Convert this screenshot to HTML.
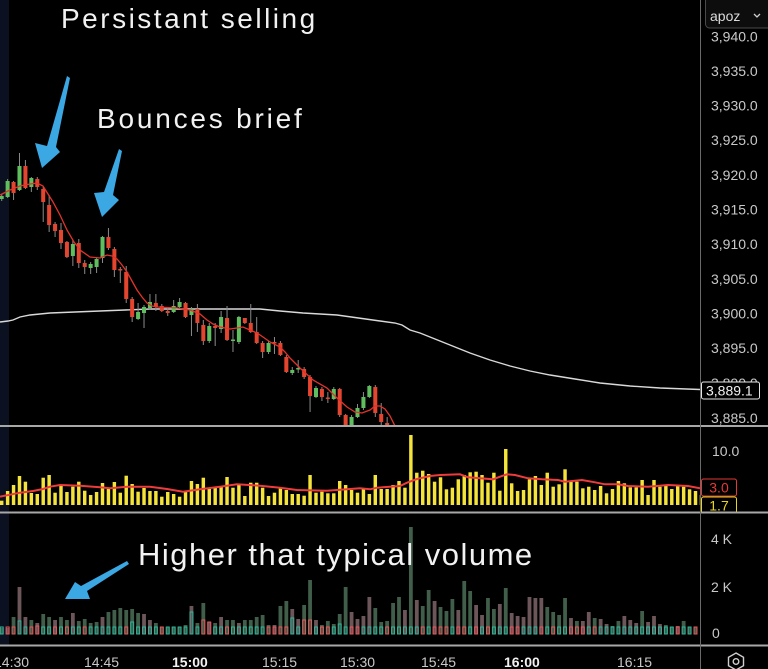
<!DOCTYPE html>
<html><head><meta charset="utf-8"><style>
html,body{margin:0;padding:0;background:#000;width:768px;height:669px;overflow:hidden}
svg{position:absolute;left:0;top:0;font-family:"Liberation Sans",sans-serif}
</style></head><body>
<svg width="768" height="669" viewBox="0 0 768 669">
<defs>
<clipPath id="cm"><rect x="0" y="0" width="700" height="425"/></clipPath>
<clipPath id="c2"><rect x="0" y="427" width="700" height="85"/></clipPath>
<clipPath id="c3"><rect x="0" y="513" width="700" height="132"/></clipPath>
</defs>
<rect width="768" height="669" fill="#000"/>
<rect x="0" y="0" width="9" height="645" fill="#0b1120"/>

<!-- MAIN PANEL -->
<g clip-path="url(#cm)">
<polyline fill="none" stroke="#d9d9d9" stroke-width="1.4" points="0,322 8,321 13,320 20,317 30,315 50,313 100,311 150,309 260,309 280,311 303,313 337,315 380,321 395,323 402,325 410,330 420,333 435,339 450,345 470,353 490,360 510,366 530,371 550,375 575,379 600,383 630,386 660,388 700,389.5"/>
<g transform="translate(1.7 0) scale(5.93 1)">
<g transform="translate(-0.085 0)" fill="#8a8a8a">
<rect x="0" y="194" width=".17" height="7"/><rect x="1" y="179" width=".17" height="19"/><rect x="2" y="181" width=".17" height="19"/><rect x="3" y="153" width=".17" height="38"/><rect x="4" y="160" width=".17" height="29"/><rect x="5" y="177" width=".17" height="15"/><rect x="6" y="177" width=".17" height="13"/><rect x="7" y="187" width=".17" height="35"/><rect x="8" y="195" width=".17" height="37"/><rect x="9" y="222" width=".17" height="15"/><rect x="10" y="223" width=".17" height="26"/><rect x="11" y="241" width=".17" height="17"/><rect x="12" y="240" width=".17" height="26"/><rect x="13" y="239" width=".17" height="29"/><rect x="14" y="260" width=".17" height="14"/><rect x="15" y="262" width=".17" height="12"/><rect x="16" y="257" width=".17" height="16"/><rect x="17" y="236" width=".17" height="27"/><rect x="18" y="228" width=".17" height="22"/><rect x="19" y="247" width=".17" height="30"/><rect x="20" y="267" width=".17" height="16"/><rect x="21" y="266" width=".17" height="37"/><rect x="22" y="297" width=".17" height="25"/><rect x="23" y="303" width=".17" height="17"/><rect x="24" y="305" width=".17" height="23"/><rect x="25" y="294" width=".17" height="16"/><rect x="26" y="294" width=".17" height="17"/><rect x="27" y="304" width=".17" height="8"/><rect x="28" y="307" width=".17" height="9"/><rect x="29" y="300" width=".17" height="13"/><rect x="30" y="298" width=".17" height="10"/><rect x="31" y="302" width=".17" height="16"/><rect x="32" y="307" width=".17" height="29"/><rect x="33" y="304" width=".17" height="28"/><rect x="34" y="320" width=".17" height="25"/><rect x="35" y="323" width=".17" height="20"/><rect x="36" y="323" width=".17" height="23"/><rect x="37" y="311" width=".17" height="22"/><rect x="38" y="306" width=".17" height="35"/><rect x="39" y="330" width=".17" height="22"/><rect x="40" y="316" width=".17" height="28"/><rect x="41" y="318" width=".17" height="6"/><rect x="42" y="304" width=".17" height="29"/><rect x="43" y="317" width=".17" height="27"/><rect x="44" y="341" width=".17" height="17"/><rect x="45" y="341" width=".17" height="13"/><rect x="46" y="337" width=".17" height="17"/><rect x="47" y="341" width=".17" height="15"/><rect x="48" y="355" width=".17" height="18"/><rect x="49" y="367" width=".17" height="8"/><rect x="50" y="360" width=".17" height="13"/><rect x="51" y="367" width=".17" height="12"/><rect x="52" y="375" width=".17" height="37"/><rect x="53" y="386" width=".17" height="12"/><rect x="54" y="387" width=".17" height="14"/><rect x="55" y="392" width=".17" height="11"/><rect x="56" y="387" width=".17" height="13"/><rect x="57" y="388" width=".17" height="29"/><rect x="58" y="414" width=".17" height="12"/><rect x="59" y="415" width=".17" height="11"/><rect x="60" y="404" width=".17" height="14"/><rect x="61" y="392" width=".17" height="18"/><rect x="62" y="385" width=".17" height="13"/><rect x="63" y="385" width=".17" height="32"/><rect x="64" y="403" width=".17" height="23"/><rect x="65" y="417" width=".17" height="9"/>
</g>
<g transform="translate(-0.34 0)" fill="#5fbf5f">
<rect x="0" y="196" width=".68" height="3"/><rect x="1" y="181" width=".68" height="16"/><rect x="3" y="166" width=".68" height="24"/><rect x="5" y="178" width=".68" height="9"/><rect x="12" y="244" width=".68" height="12"/><rect x="15" y="264" width=".68" height="4"/><rect x="16" y="259" width=".68" height="8"/><rect x="17" y="237" width=".68" height="21"/><rect x="23" y="312" width=".68" height="7"/><rect x="24" y="307" width=".68" height="6"/><rect x="25" y="302" width=".68" height="6"/><rect x="29" y="306" width=".68" height="6"/><rect x="30" y="302" width=".68" height="5"/><rect x="32" y="309" width=".68" height="6"/><rect x="35" y="326" width=".68" height="15"/><rect x="37" y="317" width=".68" height="12"/><rect x="39" y="339.5" width=".68" height="1.5"/><rect x="40" y="317" width=".68" height="25"/><rect x="45" y="343" width=".68" height="9"/><rect x="49" y="370" width=".68" height="3"/><rect x="50" y="368" width=".68" height="1.5"/><rect x="53" y="388" width=".68" height="9"/><rect x="56" y="389" width=".68" height="10"/><rect x="59" y="417" width=".68" height="9"/><rect x="60" y="408" width=".68" height="9"/><rect x="61" y="397" width=".68" height="11"/><rect x="62" y="386" width=".68" height="11"/>
</g>
<g transform="translate(-0.34 0)" fill="#e4452f">
<rect x="2" y="182" width=".68" height="11"/><rect x="4" y="166" width=".68" height="22"/><rect x="6" y="179" width=".68" height="8"/><rect x="7" y="189" width=".68" height="13"/><rect x="8" y="205" width=".68" height="20"/><rect x="9" y="224" width=".68" height="7"/><rect x="10" y="230" width=".68" height="13"/><rect x="11" y="242" width=".68" height="15"/><rect x="13" y="243" width=".68" height="20"/><rect x="14" y="263" width=".68" height="4"/><rect x="18" y="237" width=".68" height="11"/><rect x="19" y="249" width=".68" height="21"/><rect x="20" y="269" width=".68" height="1.5"/><rect x="21" y="272" width=".68" height="27"/><rect x="22" y="299" width=".68" height="18"/><rect x="26" y="303" width=".68" height="4"/><rect x="27" y="306" width=".68" height="5"/><rect x="28" y="311" width=".68" height="2"/><rect x="31" y="303" width=".68" height="14"/><rect x="33" y="309" width=".68" height="14"/><rect x="34" y="325" width=".68" height="16"/><rect x="36" y="326" width=".68" height="2"/><rect x="38" y="318" width=".68" height="22"/><rect x="41" y="318" width=".68" height="5"/><rect x="42" y="323" width=".68" height="9"/><rect x="43" y="332" width=".68" height="11"/><rect x="44" y="343" width=".68" height="9"/><rect x="46" y="342" width=".68" height="1.5"/><rect x="47" y="343" width=".68" height="12"/><rect x="48" y="357" width=".68" height="15"/><rect x="51" y="369" width=".68" height="8"/><rect x="52" y="377" width=".68" height="19"/><rect x="54" y="389" width=".68" height="8"/><rect x="55" y="397.5" width=".68" height="1.5"/><rect x="57" y="389" width=".68" height="26"/><rect x="58" y="415" width=".68" height="11"/><rect x="63" y="387" width=".68" height="26"/><rect x="64" y="414" width=".68" height="8"/><rect x="65" y="423" width=".68" height="3"/>
</g>
</g>
<polyline fill="none" stroke="#e2332c" stroke-width="1.3" points="0,195 10,190 20,186 30,184 37,183 43,186 48,194 53,202 60,215 67,230 74,242 80,250 90,257 100,258 107,255 112,256 117,259 122,265 127,272 132,281 137,290 142,297 147,303 152,306 157,307 177,308 190,310 200,314 207,320 213,324 220,327 230,329 237,328 243,327 250,330 257,333 263,337 270,342 280,347 285,352 290,358 300,368 313,380 327,388 337,398 347,407 355,412 362,413 370,410 375,406 380,406 385,409 390,416 395,426"/>
</g>

<!-- PANEL 2 yellow -->
<g clip-path="url(#c2)">
<g transform="translate(1.7 0) scale(5.93 1) translate(-0.29 0)" fill="#f3e33a">
<rect x="0" y="500.7" width=".58" height="4.3"/><rect x="1" y="491" width=".58" height="14"/><rect x="2" y="485" width=".58" height="20"/><rect x="3" y="476" width=".58" height="29"/><rect x="4" y="481.7" width=".58" height="23.3"/><rect x="5" y="493" width=".58" height="12"/><rect x="6" y="494" width=".58" height="11"/><rect x="7" y="477.7" width=".58" height="27.3"/><rect x="8" y="475" width=".58" height="30"/><rect x="9" y="492.7" width=".58" height="12.3"/><rect x="10" y="485" width=".58" height="20"/><rect x="11" y="492" width=".58" height="13"/><rect x="12" y="486.7" width=".58" height="18.3"/><rect x="13" y="481.7" width=".58" height="23.3"/><rect x="14" y="490.7" width=".58" height="14.3"/><rect x="15" y="495" width=".58" height="10"/><rect x="16" y="492" width=".58" height="13"/><rect x="17" y="483" width=".58" height="22"/><rect x="18" y="489" width=".58" height="16"/><rect x="19" y="482" width=".58" height="23"/><rect x="20" y="492.7" width=".58" height="12.3"/><rect x="21" y="475.7" width=".58" height="29.3"/><rect x="22" y="484" width=".58" height="21"/><rect x="23" y="491.7" width=".58" height="13.3"/><rect x="24" y="488" width=".58" height="17"/><rect x="25" y="491" width=".58" height="14"/><rect x="26" y="491" width=".58" height="14"/><rect x="27" y="496.7" width=".58" height="8.3"/><rect x="28" y="492" width=".58" height="13"/><rect x="29" y="494" width=".58" height="11"/><rect x="30" y="496.7" width=".58" height="8.3"/><rect x="31" y="492" width=".58" height="13"/><rect x="32" y="481" width=".58" height="24"/><rect x="33" y="484" width=".58" height="21"/><rect x="34" y="477.7" width=".58" height="27.3"/><rect x="35" y="489" width=".58" height="16"/><rect x="36" y="487" width=".58" height="18"/><rect x="37" y="486" width=".58" height="19"/><rect x="38" y="477" width=".58" height="28"/><rect x="39" y="487.7" width=".58" height="17.3"/><rect x="40" y="484" width=".58" height="21"/><rect x="41" y="496" width=".58" height="9"/><rect x="42" y="482.7" width=".58" height="22.3"/><rect x="43" y="482.7" width=".58" height="22.3"/><rect x="44" y="487.7" width=".58" height="17.3"/><rect x="45" y="496" width=".58" height="9"/><rect x="46" y="492.7" width=".58" height="12.3"/><rect x="47" y="488" width=".58" height="17"/><rect x="48" y="490" width=".58" height="15"/><rect x="49" y="494" width=".58" height="11"/><rect x="50" y="494" width=".58" height="11"/><rect x="51" y="495.7" width=".58" height="9.3"/><rect x="52" y="475" width=".58" height="30"/><rect x="53" y="492.7" width=".58" height="12.3"/><rect x="54" y="491.7" width=".58" height="13.3"/><rect x="55" y="493.3" width=".58" height="11.7"/><rect x="56" y="493.3" width=".58" height="11.7"/><rect x="57" y="481" width=".58" height="24"/><rect x="58" y="485" width=".58" height="20"/><rect x="59" y="490" width=".58" height="15"/><rect x="60" y="492.7" width=".58" height="12.3"/><rect x="61" y="489" width=".58" height="16"/><rect x="62" y="494" width=".58" height="11"/><rect x="63" y="475" width=".58" height="30"/><rect x="64" y="489" width=".58" height="16"/><rect x="65" y="489" width=".58" height="16"/><rect x="66" y="485" width=".58" height="20"/><rect x="67" y="481" width=".58" height="24"/><rect x="68" y="487.7" width=".58" height="17.3"/><rect x="69" y="435" width=".58" height="70"/><rect x="70" y="472.7" width=".58" height="32.3"/><rect x="71" y="470.7" width=".58" height="34.3"/><rect x="72" y="474" width=".58" height="31"/><rect x="73" y="481.7" width=".58" height="23.3"/><rect x="74" y="477.3" width=".58" height="27.7"/><rect x="75" y="489.3" width=".58" height="15.7"/><rect x="76" y="487.7" width=".58" height="17.3"/><rect x="77" y="479.3" width=".58" height="25.7"/><rect x="78" y="475" width=".58" height="30"/><rect x="79" y="472.3" width=".58" height="32.7"/><rect x="80" y="471.7" width=".58" height="33.3"/><rect x="81" y="475" width=".58" height="30"/><rect x="82" y="482.7" width=".58" height="22.3"/><rect x="83" y="472.7" width=".58" height="32.3"/><rect x="84" y="490.7" width=".58" height="14.3"/><rect x="85" y="449" width=".58" height="56"/><rect x="86" y="483.3" width=".58" height="21.7"/><rect x="87" y="491" width=".58" height="14"/><rect x="88" y="490" width=".58" height="15"/><rect x="89" y="479.3" width=".58" height="25.7"/><rect x="90" y="476" width=".58" height="29"/><rect x="91" y="485" width=".58" height="20"/><rect x="92" y="472.7" width=".58" height="32.3"/><rect x="93" y="486.7" width=".58" height="18.3"/><rect x="94" y="484.3" width=".58" height="20.7"/><rect x="95" y="469.3" width=".58" height="35.7"/><rect x="96" y="481.7" width=".58" height="23.3"/><rect x="97" y="481.7" width=".58" height="23.3"/><rect x="98" y="488.3" width=".58" height="16.7"/><rect x="99" y="486.7" width=".58" height="18.3"/><rect x="100" y="490" width=".58" height="15"/><rect x="101" y="486" width=".58" height="19"/><rect x="102" y="493.3" width=".58" height="11.7"/><rect x="103" y="489" width=".58" height="16"/><rect x="104" y="481" width=".58" height="24"/><rect x="105" y="483.3" width=".58" height="21.7"/><rect x="106" y="487.3" width=".58" height="17.7"/><rect x="107" y="487.3" width=".58" height="17.7"/><rect x="108" y="480" width=".58" height="25"/><rect x="109" y="495" width=".58" height="10"/><rect x="110" y="480" width=".58" height="25"/><rect x="111" y="486.7" width=".58" height="18.3"/><rect x="112" y="486" width=".58" height="19"/><rect x="113" y="489" width=".58" height="16"/><rect x="114" y="485" width=".58" height="20"/><rect x="115" y="486.7" width=".58" height="18.3"/><rect x="116" y="489.3" width=".58" height="15.7"/><rect x="117" y="491" width=".58" height="14"/><rect x="118" y="495" width=".58" height="10"/>
</g>
<polyline fill="none" stroke="#ee3b3b" stroke-width="2" points="0,496.7 20,492.7 33,491 43,489 50,486.7 60,485 80,485.7 100,487.3 110,488.3 127,486.7 150,486.7 167,489 183,491.7 200,489.3 220,486.7 237,484.3 260,485.7 280,487.7 297,490 327,490.7 360,488.3 370,489.3 377,487.7 400,486 407,482.7 417,479 430,476 440,475 460,474.3 468,477.3 493,479.3 500,476.7 507,474.3 515,475 528,478.3 542,479.3 558,480 565,481.7 582,480 595,482.3 605,484.3 618,484.3 628,486 648,486.7 668,485 688,486 700,488.3"/>
</g>

<!-- PANEL 3 volume -->
<g clip-path="url(#c3)">
<g transform="translate(1.7 0) scale(5.93 1) translate(-0.32 0)" fill="#405e49">
<rect x="0" y="628" width=".64" height="6"/><rect x="2" y="617" width=".64" height="17"/><rect x="5" y="620" width=".64" height="14"/><rect x="7" y="614" width=".64" height="20"/><rect x="8" y="617" width=".64" height="17"/><rect x="10" y="617" width=".64" height="17"/><rect x="11" y="620" width=".64" height="14"/><rect x="13" y="621" width=".64" height="13"/><rect x="14" y="619" width=".64" height="15"/><rect x="15" y="623" width=".64" height="11"/><rect x="16" y="622" width=".64" height="12"/><rect x="18" y="612" width=".64" height="22"/><rect x="19" y="610" width=".64" height="24"/><rect x="20" y="608" width=".64" height="26"/><rect x="21" y="610" width=".64" height="24"/><rect x="22" y="609" width=".64" height="25"/><rect x="23" y="613" width=".64" height="21"/><rect x="26" y="623" width=".64" height="11"/><rect x="27" y="627" width=".64" height="7"/><rect x="28" y="627" width=".64" height="7"/><rect x="29" y="627" width=".64" height="7"/><rect x="30" y="627" width=".64" height="7"/><rect x="31" y="625" width=".64" height="9"/><rect x="33" y="623" width=".64" height="11"/><rect x="34" y="603" width=".64" height="31"/><rect x="36" y="623" width=".64" height="11"/><rect x="38" y="620" width=".64" height="14"/><rect x="39" y="620" width=".64" height="14"/><rect x="41" y="620" width=".64" height="14"/><rect x="42" y="620" width=".64" height="14"/><rect x="43" y="617" width=".64" height="17"/><rect x="44" y="615" width=".64" height="19"/><rect x="45" y="625" width=".64" height="9"/><rect x="47" y="606" width=".64" height="28"/><rect x="48" y="601" width=".64" height="33"/><rect x="51" y="605" width=".64" height="29"/><rect x="52" y="580" width=".64" height="54"/><rect x="54" y="625" width=".64" height="9"/><rect x="55" y="621" width=".64" height="13"/><rect x="56" y="624" width=".64" height="10"/><rect x="57" y="614" width=".64" height="20"/><rect x="58" y="587" width=".64" height="47"/><rect x="63" y="608" width=".64" height="26"/><rect x="64" y="622" width=".64" height="12"/><rect x="65" y="621" width=".64" height="13"/><rect x="66" y="603" width=".64" height="31"/><rect x="67" y="597" width=".64" height="37"/><rect x="69" y="527" width=".64" height="107"/><rect x="71" y="606" width=".64" height="28"/><rect x="72" y="590" width=".64" height="44"/><rect x="74" y="607" width=".64" height="27"/><rect x="75" y="611" width=".64" height="23"/><rect x="76" y="599" width=".64" height="35"/><rect x="78" y="581" width=".64" height="53"/><rect x="79" y="591" width=".64" height="43"/><rect x="82" y="598" width=".64" height="36"/><rect x="83" y="609" width=".64" height="25"/><rect x="85" y="588" width=".64" height="46"/><rect x="92" y="607" width=".64" height="27"/><rect x="93" y="612" width=".64" height="22"/><rect x="94" y="615" width=".64" height="19"/><rect x="95" y="598" width=".64" height="36"/><rect x="97" y="621" width=".64" height="13"/><rect x="100" y="618" width=".64" height="16"/><rect x="103" y="626" width=".64" height="8"/><rect x="104" y="621" width=".64" height="13"/><rect x="108" y="611" width=".64" height="23"/><rect x="112" y="625" width=".64" height="9"/><rect x="113" y="627" width=".64" height="7"/><rect x="115" y="621" width=".64" height="13"/><rect x="116" y="627" width=".64" height="7"/><rect x="117" y="627" width=".64" height="7"/>
</g>
<g transform="translate(1.7 0) scale(5.93 1) translate(-0.32 0)" fill="#6d565a">
<rect x="1" y="628" width=".64" height="6"/><rect x="3" y="587" width=".64" height="47"/><rect x="4" y="617" width=".64" height="17"/><rect x="6" y="623" width=".64" height="11"/><rect x="9" y="620" width=".64" height="14"/><rect x="12" y="613" width=".64" height="21"/><rect x="17" y="617" width=".64" height="17"/><rect x="24" y="614" width=".64" height="20"/><rect x="25" y="620" width=".64" height="14"/><rect x="32" y="606" width=".64" height="28"/><rect x="35" y="622" width=".64" height="12"/><rect x="37" y="617" width=".64" height="17"/><rect x="40" y="623" width=".64" height="11"/><rect x="46" y="625" width=".64" height="9"/><rect x="49" y="609" width=".64" height="25"/><rect x="50" y="619" width=".64" height="15"/><rect x="53" y="620" width=".64" height="14"/><rect x="59" y="612" width=".64" height="22"/><rect x="60" y="619" width=".64" height="15"/><rect x="61" y="616" width=".64" height="18"/><rect x="62" y="597" width=".64" height="37"/><rect x="68" y="610" width=".64" height="24"/><rect x="70" y="600" width=".64" height="34"/><rect x="73" y="601" width=".64" height="33"/><rect x="77" y="610" width=".64" height="24"/><rect x="80" y="605" width=".64" height="29"/><rect x="81" y="615" width=".64" height="19"/><rect x="84" y="604" width=".64" height="30"/><rect x="86" y="613" width=".64" height="21"/><rect x="87" y="616" width=".64" height="18"/><rect x="88" y="617" width=".64" height="17"/><rect x="89" y="597" width=".64" height="37"/><rect x="90" y="598" width=".64" height="36"/><rect x="91" y="598" width=".64" height="36"/><rect x="96" y="618" width=".64" height="16"/><rect x="98" y="621" width=".64" height="13"/><rect x="99" y="612" width=".64" height="22"/><rect x="101" y="619" width=".64" height="15"/><rect x="102" y="624" width=".64" height="10"/><rect x="105" y="616" width=".64" height="18"/><rect x="106" y="620" width=".64" height="14"/><rect x="107" y="623" width=".64" height="11"/><rect x="109" y="622" width=".64" height="12"/><rect x="110" y="616" width=".64" height="18"/><rect x="111" y="624" width=".64" height="10"/><rect x="114" y="626" width=".64" height="8"/>
</g>
<g transform="translate(1.7 0) scale(5.93 1) translate(-0.25 0)" fill="none" stroke="#2fb59b" stroke-width="1">
<rect x="0" y="627" width=".5" height="7" vector-effect="non-scaling-stroke"/><rect x="3" y="621" width=".5" height="13" vector-effect="non-scaling-stroke"/><rect x="4" y="627" width=".5" height="7" vector-effect="non-scaling-stroke"/><rect x="7" y="627" width=".5" height="7" vector-effect="non-scaling-stroke"/><rect x="8" y="627" width=".5" height="7" vector-effect="non-scaling-stroke"/><rect x="10" y="627" width=".5" height="7" vector-effect="non-scaling-stroke"/><rect x="12" y="627" width=".5" height="7" vector-effect="non-scaling-stroke"/><rect x="13" y="627" width=".5" height="7" vector-effect="non-scaling-stroke"/><rect x="15" y="627" width=".5" height="7" vector-effect="non-scaling-stroke"/><rect x="16" y="627" width=".5" height="7" vector-effect="non-scaling-stroke"/><rect x="17" y="627" width=".5" height="7" vector-effect="non-scaling-stroke"/><rect x="18" y="627" width=".5" height="7" vector-effect="non-scaling-stroke"/><rect x="19" y="627" width=".5" height="7" vector-effect="non-scaling-stroke"/><rect x="20" y="627" width=".5" height="7" vector-effect="non-scaling-stroke"/><rect x="22" y="622" width=".5" height="12" vector-effect="non-scaling-stroke"/><rect x="23" y="627" width=".5" height="7" vector-effect="non-scaling-stroke"/><rect x="24" y="627" width=".5" height="7" vector-effect="non-scaling-stroke"/><rect x="25" y="627" width=".5" height="7" vector-effect="non-scaling-stroke"/><rect x="26" y="627" width=".5" height="7" vector-effect="non-scaling-stroke"/><rect x="28" y="627" width=".5" height="7" vector-effect="non-scaling-stroke"/><rect x="29" y="627" width=".5" height="7" vector-effect="non-scaling-stroke"/><rect x="30" y="627" width=".5" height="7" vector-effect="non-scaling-stroke"/><rect x="31" y="627" width=".5" height="7" vector-effect="non-scaling-stroke"/><rect x="32" y="612" width=".5" height="22" vector-effect="non-scaling-stroke"/><rect x="33" y="627" width=".5" height="7" vector-effect="non-scaling-stroke"/><rect x="36" y="627" width=".5" height="7" vector-effect="non-scaling-stroke"/><rect x="37" y="627" width=".5" height="7" vector-effect="non-scaling-stroke"/><rect x="39" y="627" width=".5" height="7" vector-effect="non-scaling-stroke"/><rect x="40" y="627" width=".5" height="7" vector-effect="non-scaling-stroke"/><rect x="41" y="627" width=".5" height="7" vector-effect="non-scaling-stroke"/><rect x="42" y="627" width=".5" height="7" vector-effect="non-scaling-stroke"/><rect x="43" y="627" width=".5" height="7" vector-effect="non-scaling-stroke"/><rect x="44" y="627" width=".5" height="7" vector-effect="non-scaling-stroke"/><rect x="49" y="618" width=".5" height="16" vector-effect="non-scaling-stroke"/><rect x="50" y="627" width=".5" height="7" vector-effect="non-scaling-stroke"/><rect x="53" y="627" width=".5" height="7" vector-effect="non-scaling-stroke"/><rect x="56" y="627" width=".5" height="7" vector-effect="non-scaling-stroke"/><rect x="57" y="624" width=".5" height="10" vector-effect="non-scaling-stroke"/><rect x="58" y="627" width=".5" height="7" vector-effect="non-scaling-stroke"/><rect x="61" y="627" width=".5" height="7" vector-effect="non-scaling-stroke"/><rect x="62" y="627" width=".5" height="7" vector-effect="non-scaling-stroke"/><rect x="63" y="627" width=".5" height="7" vector-effect="non-scaling-stroke"/><rect x="64" y="627" width=".5" height="7" vector-effect="non-scaling-stroke"/><rect x="66" y="627" width=".5" height="7" vector-effect="non-scaling-stroke"/><rect x="67" y="627" width=".5" height="7" vector-effect="non-scaling-stroke"/><rect x="68" y="627" width=".5" height="7" vector-effect="non-scaling-stroke"/><rect x="69" y="627" width=".5" height="7" vector-effect="non-scaling-stroke"/><rect x="70" y="627" width=".5" height="7" vector-effect="non-scaling-stroke"/><rect x="72" y="627" width=".5" height="7" vector-effect="non-scaling-stroke"/><rect x="76" y="627" width=".5" height="7" vector-effect="non-scaling-stroke"/><rect x="79" y="627" width=".5" height="7" vector-effect="non-scaling-stroke"/><rect x="81" y="627" width=".5" height="7" vector-effect="non-scaling-stroke"/><rect x="83" y="627" width=".5" height="7" vector-effect="non-scaling-stroke"/><rect x="84" y="627" width=".5" height="7" vector-effect="non-scaling-stroke"/><rect x="85" y="627" width=".5" height="7" vector-effect="non-scaling-stroke"/><rect x="88" y="627" width=".5" height="7" vector-effect="non-scaling-stroke"/><rect x="89" y="627" width=".5" height="7" vector-effect="non-scaling-stroke"/><rect x="90" y="627" width=".5" height="7" vector-effect="non-scaling-stroke"/><rect x="92" y="627" width=".5" height="7" vector-effect="non-scaling-stroke"/><rect x="94" y="627" width=".5" height="7" vector-effect="non-scaling-stroke"/><rect x="95" y="627" width=".5" height="7" vector-effect="non-scaling-stroke"/><rect x="99" y="627" width=".5" height="7" vector-effect="non-scaling-stroke"/><rect x="101" y="627" width=".5" height="7" vector-effect="non-scaling-stroke"/><rect x="102" y="627" width=".5" height="7" vector-effect="non-scaling-stroke"/><rect x="103" y="627" width=".5" height="7" vector-effect="non-scaling-stroke"/><rect x="104" y="627" width=".5" height="7" vector-effect="non-scaling-stroke"/><rect x="105" y="627" width=".5" height="7" vector-effect="non-scaling-stroke"/><rect x="106" y="627" width=".5" height="7" vector-effect="non-scaling-stroke"/><rect x="107" y="627" width=".5" height="7" vector-effect="non-scaling-stroke"/><rect x="108" y="627" width=".5" height="7" vector-effect="non-scaling-stroke"/><rect x="109" y="627" width=".5" height="7" vector-effect="non-scaling-stroke"/><rect x="110" y="627" width=".5" height="7" vector-effect="non-scaling-stroke"/><rect x="111" y="627" width=".5" height="7" vector-effect="non-scaling-stroke"/><rect x="112" y="627" width=".5" height="7" vector-effect="non-scaling-stroke"/><rect x="113" y="627" width=".5" height="7" vector-effect="non-scaling-stroke"/><rect x="115" y="627" width=".5" height="7" vector-effect="non-scaling-stroke"/><rect x="116" y="627" width=".5" height="7" vector-effect="non-scaling-stroke"/>
</g>
<g transform="translate(1.7 0) scale(5.93 1) translate(-0.25 0)" fill="none" stroke="#e8585c" stroke-width="1">
<rect x="1" y="627" width=".5" height="7" vector-effect="non-scaling-stroke"/><rect x="2" y="627" width=".5" height="7" vector-effect="non-scaling-stroke"/><rect x="5" y="627" width=".5" height="7" vector-effect="non-scaling-stroke"/><rect x="6" y="626" width=".5" height="8" vector-effect="non-scaling-stroke"/><rect x="9" y="627" width=".5" height="7" vector-effect="non-scaling-stroke"/><rect x="11" y="627" width=".5" height="7" vector-effect="non-scaling-stroke"/><rect x="14" y="627" width=".5" height="7" vector-effect="non-scaling-stroke"/><rect x="21" y="627" width=".5" height="7" vector-effect="non-scaling-stroke"/><rect x="27" y="627" width=".5" height="7" vector-effect="non-scaling-stroke"/><rect x="34" y="620" width=".5" height="14" vector-effect="non-scaling-stroke"/><rect x="35" y="622" width=".5" height="12" vector-effect="non-scaling-stroke"/><rect x="38" y="627" width=".5" height="7" vector-effect="non-scaling-stroke"/><rect x="45" y="627" width=".5" height="7" vector-effect="non-scaling-stroke"/><rect x="46" y="627" width=".5" height="7" vector-effect="non-scaling-stroke"/><rect x="47" y="627" width=".5" height="7" vector-effect="non-scaling-stroke"/><rect x="48" y="627" width=".5" height="7" vector-effect="non-scaling-stroke"/><rect x="51" y="620" width=".5" height="14" vector-effect="non-scaling-stroke"/><rect x="52" y="620" width=".5" height="14" vector-effect="non-scaling-stroke"/><rect x="54" y="627" width=".5" height="7" vector-effect="non-scaling-stroke"/><rect x="55" y="627" width=".5" height="7" vector-effect="non-scaling-stroke"/><rect x="59" y="627" width=".5" height="7" vector-effect="non-scaling-stroke"/><rect x="60" y="627" width=".5" height="7" vector-effect="non-scaling-stroke"/><rect x="65" y="627" width=".5" height="7" vector-effect="non-scaling-stroke"/><rect x="71" y="627" width=".5" height="7" vector-effect="non-scaling-stroke"/><rect x="73" y="627" width=".5" height="7" vector-effect="non-scaling-stroke"/><rect x="74" y="627" width=".5" height="7" vector-effect="non-scaling-stroke"/><rect x="75" y="627" width=".5" height="7" vector-effect="non-scaling-stroke"/><rect x="77" y="627" width=".5" height="7" vector-effect="non-scaling-stroke"/><rect x="78" y="627" width=".5" height="7" vector-effect="non-scaling-stroke"/><rect x="80" y="627" width=".5" height="7" vector-effect="non-scaling-stroke"/><rect x="82" y="627" width=".5" height="7" vector-effect="non-scaling-stroke"/><rect x="86" y="627" width=".5" height="7" vector-effect="non-scaling-stroke"/><rect x="87" y="627" width=".5" height="7" vector-effect="non-scaling-stroke"/><rect x="91" y="627" width=".5" height="7" vector-effect="non-scaling-stroke"/><rect x="93" y="627" width=".5" height="7" vector-effect="non-scaling-stroke"/><rect x="96" y="627" width=".5" height="7" vector-effect="non-scaling-stroke"/><rect x="97" y="627" width=".5" height="7" vector-effect="non-scaling-stroke"/><rect x="98" y="627" width=".5" height="7" vector-effect="non-scaling-stroke"/><rect x="100" y="627" width=".5" height="7" vector-effect="non-scaling-stroke"/><rect x="114" y="627" width=".5" height="7" vector-effect="non-scaling-stroke"/><rect x="117" y="627" width=".5" height="7" vector-effect="non-scaling-stroke"/>
</g>
</g>

<!-- separators & axis -->
<rect x="0" y="425" width="768" height="2" fill="#a8a8a8"/>
<rect x="0" y="511.5" width="768" height="2" fill="#a8a8a8"/>
<rect x="0" y="644.5" width="768" height="2" fill="#a8a8a8"/>
<rect x="700" y="0" width="1" height="669" fill="#6a6a6a"/>

<!-- price axis labels -->
<g fill="#c9c9c9" font-size="14">
<text x="711" y="41.5">3,940.0</text>
<text x="711" y="76">3,935.0</text>
<text x="711" y="110.5">3,930.0</text>
<text x="711" y="145">3,925.0</text>
<text x="711" y="180">3,920.0</text>
<text x="711" y="214.5">3,915.0</text>
<text x="711" y="249">3,910.0</text>
<text x="711" y="284">3,905.0</text>
<text x="711" y="318.5">3,900.0</text>
<text x="711" y="353">3,895.0</text>
<text x="711" y="388">3,890.0</text>
<text x="711" y="423">3,885.0</text>
<text x="712" y="456">10.0</text>
<text x="711" y="544">4 K</text>
<text x="711" y="592">2 K</text>
<text x="712" y="638">0</text>
</g>
<!-- apoz box -->
<rect x="705.5" y="-3" width="66" height="31" rx="4" fill="#0d0d0d" stroke="#4a4a4a" stroke-width="1"/>
<text x="710" y="21" fill="#dcdcdc" font-size="14">apoz</text>
<polyline points="754,14 757,17 760,14" fill="none" stroke="#cfcfcf" stroke-width="1.3"/>
<!-- current price -->
<rect x="701.5" y="382" width="58" height="17" rx="2" fill="#000" stroke="#e6e6e6" stroke-width="1"/>
<text x="706" y="395.5" fill="#f0f0f0" font-size="14">3,889.1</text>
<!-- 3.0 and 1.7 -->
<rect x="701.5" y="479" width="35" height="17" rx="2" fill="#000" stroke="#e53935" stroke-width="1"/>
<text x="719" y="492.5" fill="#e53935" font-size="14" text-anchor="middle">3.0</text>
<g clip-path="url(#c2b)"></g>
<svg x="0" y="0" width="768" height="511.5" overflow="hidden">
<rect x="701.5" y="497" width="35" height="17" rx="2" fill="#000" stroke="#e8d420" stroke-width="1"/>
<text x="719" y="510.5" fill="#e8d420" font-size="14" text-anchor="middle">1.7</text>
</svg>

<!-- time axis -->
<g fill="#c9c9c9" font-size="14">
<text x="-6" y="667">14:30</text>
<text x="84" y="667">14:45</text>
<text x="172" y="667" font-weight="bold" fill="#f2f2f2">15:00</text>
<text x="262" y="667">15:15</text>
<text x="340" y="667">15:30</text>
<text x="421" y="667">15:45</text>
<text x="504" y="667" font-weight="bold" fill="#f2f2f2">16:00</text>
<text x="617" y="667">16:15</text>
</g>
<polygon points="736,653 743.5,657.3 743.5,665.7 736,670 728.5,665.7 728.5,657.3" fill="none" stroke="#cfcfcf" stroke-width="1.4"/>
<circle cx="736" cy="661.5" r="2.8" fill="none" stroke="#cfcfcf" stroke-width="1.4"/>

<!-- arrows -->
<g fill="#3ba8e4">
<polygon points="67,76 70,78 56,147 60,152 42,168 35,143 47,146"/>
<polygon points="119,149 122,151 113,195 119,200 102,217 94,193 104,192"/>
<polygon points="127,561 129,564 87,591 90,599 65,599 75,582 81,586"/>
</g>

<!-- annotation text -->
<g fill="#f2f2f2">
<text x="61" y="28" font-size="28" letter-spacing="2.5">Persistant selling</text>
<text x="97" y="128" font-size="28" letter-spacing="2.8">Bounces brief</text>
<text x="138" y="565" font-size="31" letter-spacing="1.5">Higher that typical volume</text>
</g>
</svg>
</body></html>
